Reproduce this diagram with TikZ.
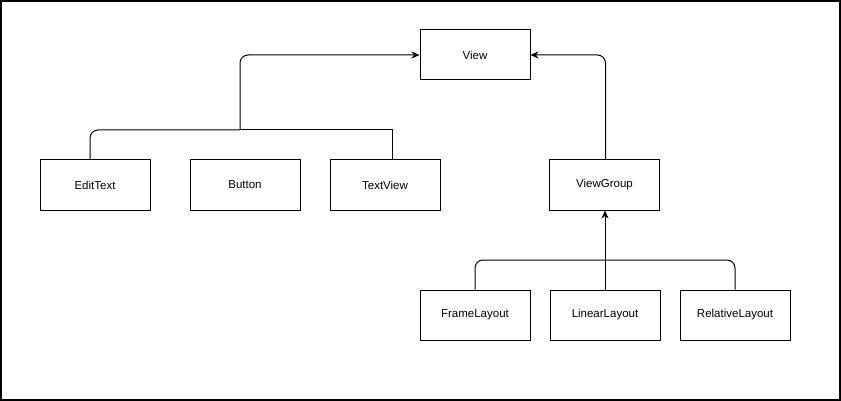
\documentclass[tikz,border=0pt]{standalone}
\usepackage{fontspec}
\setmainfont{Liberation Sans}
\usetikzlibrary{arrows.meta}
\begin{document}
\begin{tikzpicture}[x=1pt,y=-1pt,
  box/.style={draw,line width=1pt,minimum width=110pt,minimum height=50pt,inner sep=0pt,font=\fontsize{11.5}{13}\selectfont},
  conn/.style={line width=1pt,rounded corners=8pt},
  tip/.style={-{Stealth[length=8pt,width=7pt,inset=2.5pt]}}]
\useasboundingbox (0,0) rectangle (841,401);
\draw[line width=1.6pt] (1,1) rectangle (840,400);
\node[box] (view) at (475,55) {View};
\node[box] (edit) at (95,185) {EditText};
\node[box] (button) at (245,185) {Button};
\node[box] (textview) at (385,185) {TextView};
\node[box] (vg) at (604.5,185) {ViewGroup};
\node[box] (frame) at (475,315) {FrameLayout};
\node[box] (linear) at (605,315) {LinearLayout};
\node[box] (relative) at (735,315) {RelativeLayout};
\coordinate (j1) at (240,130);
\draw[conn] ([xshift=-5pt]edit.north) |- (j1);
\draw[line width=1pt] ([xshift=7pt]textview.north) |- (j1);
\draw[conn,tip] (j1) |- (view.west);
\draw[conn,tip] ([xshift=1pt]vg.north) |- (view.east);
\coordinate (j2) at (605,260);
\draw[conn] (frame.north) |- (j2);
\draw[conn] (relative.north) |- (j2);
\draw[line width=1pt,tip] (linear.north) -- (linear.north |- vg.south);
\end{tikzpicture}
\end{document}
